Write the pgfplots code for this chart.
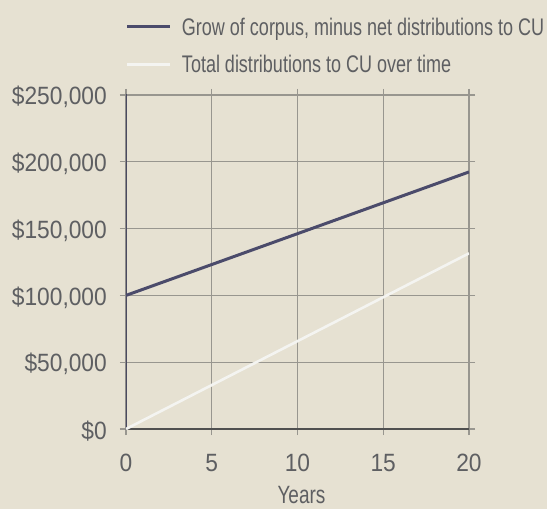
\documentclass[border=0pt]{standalone}
\usepackage{fontspec}
\setmainfont{Liberation Sans}[FakeStretch=0.76]
\newfontfamily\numfont{Liberation Sans}[FakeStretch=0.91]
\newfontfamily\legfont{Liberation Sans}[FakeStretch=0.75]
\usepackage{pgfplots}
\pgfplotsset{compat=1.18}
\definecolor{bg}{HTML}{E6E1D2}
\definecolor{gridc}{HTML}{98968F}
\definecolor{txt}{HTML}{5E5F62}
\definecolor{darkl}{HTML}{4B4B6B}
\definecolor{whitel}{HTML}{F4F4F1}
\definecolor{leftax}{HTML}{4A4A60}
\definecolor{botax}{HTML}{505050}
\begin{document}
\begin{tikzpicture}
\fill[bg] (-126bp,-80bp) rectangle (421bp,429bp);
\begin{axis}[
  at={(0,0)}, anchor=south west,
  scale only axis, width=343bp, height=334bp,
  xmin=0, xmax=20, ymin=0, ymax=250000,
  scaled y ticks=false, scaled x ticks=false,
  xtick={0,5,10,15,20},
  xticklabels={0,5,10,15,20},
  ytick={0,50000,100000,150000,200000,250000},
  yticklabels={{\$0},{\$50,000},{\$100,000},{\$150,000},{\$200,000},{\$250,000}},
  grid=major,
  major grid style={gridc, line width=1.2bp},
  axis line style={gridc, line width=1.2bp},
  tick align=outside, major tick length=6bp,
  tick style={gridc, line width=1.2bp},
  xtick pos=both, ytick pos=both,
  ticklabel style={font=\numfont\fontsize{25bp}{30bp}\selectfont, text=txt, inner sep=0pt},
  xticklabel style={anchor=north, yshift=-19bp},
  yticklabel style={anchor=east, xshift=-13bp, yshift=-2bp},
  xlabel={Years},
  xlabel style={at={(axis description cs:0.5,0)}, anchor=north, inner sep=0pt, yshift=-57bp, xshift=4bp, font=\fontsize{25bp}{30bp}\selectfont, text=txt},
  legend style={at={(axis description cs:0,1)}, anchor=south west, yshift=19bp,
    draw=none, fill=none, inner sep=0pt, outer sep=0pt,
    font=\legfont\fontsize{24bp}{28bp}\selectfont, text=txt,
    cells={inner sep=0pt, text height=18bp, text depth=6bp},
    row sep=14bp,
    /tikz/every odd column/.append style={column sep=8bp}},
  legend cell align=left,
  legend image code/.code={\draw[#1] (0bp,0bp) -- (43bp,0bp);},
]
\draw[leftax, line width=1.4bp, shorten <=-6bp, shorten >=-7bp] (axis cs:0,0) -- (axis cs:0,250000);
\draw[botax, line width=1.4bp, shorten <=-7bp, shorten >=-5bp] (axis cs:0,0) -- (axis cs:20,0);
\addplot[darkl, line width=3bp] coordinates {(0,100000) (20,192400)};
\addlegendentry{Grow of corpus, minus net distributions to CU}
\addplot[whitel, line width=2.6bp] coordinates {(0,0) (20,131500)};
\addlegendentry{Total distributions to CU over time}
\end{axis}
\end{tikzpicture}
\end{document}
